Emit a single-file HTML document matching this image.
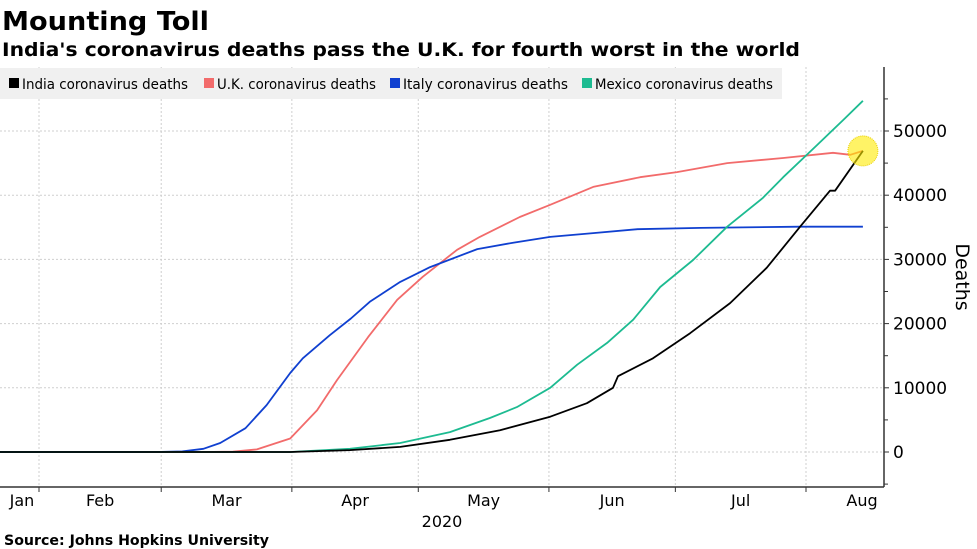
<!DOCTYPE html>
<html><head><meta charset="utf-8"><style>
body{margin:0;background:#fff;}
svg{display:block;font-family:"DejaVu Sans","Liberation Sans",sans-serif;}
</style></head><body>
<svg id="chart" width="977" height="549" viewBox="0 0 977 549" xmlns="http://www.w3.org/2000/svg">
<text x="2" y="30" font-size="26" font-weight="bold" textLength="207" lengthAdjust="spacingAndGlyphs">Mounting Toll</text>
<text x="2" y="56" font-size="19" font-weight="bold" textLength="798" lengthAdjust="spacingAndGlyphs">India's coronavirus deaths pass the U.K. for fourth worst in the world</text>
<g id="grid"></g>
<g id="series"></g>
<g>
<rect x="0" y="68" width="782" height="31" fill="#f0f0f0"/>
<rect x="9" y="78" width="10" height="10" fill="#000"/>
<text x="22" y="89" font-size="14" textLength="166" lengthAdjust="spacingAndGlyphs">India coronavirus deaths</text>
<rect x="204" y="78" width="10" height="10" fill="#f26b6b"/>
<text x="217" y="89" font-size="14" textLength="159" lengthAdjust="spacingAndGlyphs">U.K. coronavirus deaths</text>
<rect x="390" y="78" width="10" height="10" fill="#1040d0"/>
<text x="403" y="89" font-size="14" textLength="165" lengthAdjust="spacingAndGlyphs">Italy coronavirus deaths</text>
<rect x="582" y="78" width="10" height="10" fill="#1dbb91"/>
<text x="595" y="89" font-size="14" textLength="178" lengthAdjust="spacingAndGlyphs">Mexico coronavirus deaths</text>
</g>
<g id="axes"></g>
<text transform="translate(956,277) rotate(90)" text-anchor="middle" font-size="19">Deaths</text>
<text x="442" y="527" text-anchor="middle" font-size="16">2020</text>
<text x="4" y="545" font-size="14" font-weight="bold" textLength="265" lengthAdjust="spacingAndGlyphs">Source: Johns Hopkins University</text>
</svg>
<script>
// day-of-year (0 = Jan 1, 2020) and deaths in thousands
const italyDays = [21,55,60,65,70,74,80,85,90.6,93.6,100,105,109.5,116.7,123.8,135,143.5,152.3,162.5,173,188,211.6,226.5];
const italy     = [0,0,0.01,0.1,0.5,1.4,3.7,7.3,12.3,14.6,18.2,20.8,23.4,26.5,28.8,31.6,32.6,33.5,34.1,34.7,34.9,35.1,35.1];
const ukDays    = [21,70,77,82.7,90.6,97,101.7,109.1,116,122.1,130.2,135.6,145.1,152.3,162.5,173.6,182.4,194.3,207.6,219.4,223.5,226.5];
const uk        = [0,0,0.05,0.4,2.1,6.5,11.2,17.9,23.7,27.3,31.5,33.5,36.6,38.5,41.3,42.8,43.6,45,45.8,46.6,46.3,46.9];
const mexicoDays= [21,90.6,104.8,116.7,128.5,138,144.4,152.3,158.7,165.8,172,178.4,186.2,194.3,202.8,207.6,215.6,221.8,226.5];
const mexico    = [0,0,0.5,1.4,3.1,5.3,7.0,10,13.6,17,20.6,25.7,29.9,35.1,39.6,42.8,47.8,51.7,54.7];
const indiaDays = [21,90.6,104.8,116.7,128.5,140.4,152.3,161,167.2,168.4,176.7,185.5,195,203.7,211.6,218.7,219.9,226.5];
const india     = [0,0,0.3,0.8,1.9,3.4,5.5,7.6,10,11.8,14.6,18.5,23.2,28.7,35.1,40.7,40.7,46.9];
const yTicks = [0,10000,20000,30000,40000,50000];
const monthLabels = ["Jan","Feb","Mar","Apr","May","Jun","Jul","Aug"];
const monthStarts = [0,31,60,91,121,152,182,213];

const NS="http://www.w3.org/2000/svg";
const X0=39, PX=(806-39)/182;
function xs(d){return X0+(d-31)*PX;}
function ys(v){return 452-v*6.42/1000;}
function mk(tag,attrs,parent){const e=document.createElementNS(NS,tag);for(const k in attrs)e.setAttribute(k,attrs[k]);parent.appendChild(e);return e;}
const grid=document.getElementById("grid"),axes=document.getElementById("axes"),ser=document.getElementById("series");
const plotTop=67,plotBot=487,plotRight=884;
yTicks.forEach((t)=>{
  const y=ys(t);
  const g=mk("line",{x1:0,x2:plotRight,y1:y,y2:y,stroke:"#cfcfcf","stroke-dasharray":"2,2"},grid);
  
  
  mk("line",{x1:plotRight,x2:plotRight+5,y1:y,y2:y,stroke:"#333"},axes);
  const tx=mk("text",{x:plotRight+9,y:y+6,"font-size":"17"},axes);
  
  
  tx.textContent=String(t);
});
for(let v=-5000;v<=55000;v+=10000){const y=ys(v);mk("line",{x1:plotRight,x2:plotRight+4,y1:y,y2:y,stroke:"#333"},axes);}
monthStarts.forEach((m,i)=>{
  const x=xs(m);
  if(i>0){
    const g=mk("line",{x1:x,x2:x,y1:plotTop,y2:plotBot,stroke:"#cfcfcf","stroke-dasharray":"2,2"},grid);
    
    
    mk("line",{x1:x,x2:x,y1:plotBot,y2:plotBot+5,stroke:"#333"},axes);
  }
  const nx=i<monthStarts.length-1?xs(monthStarts[i+1]):x+100;
  let cx=(x+nx)/2; if(i===0)cx=22; if(i===7)cx=862;
  const tx=mk("text",{x:cx,y:506,"font-size":"16","text-anchor":"middle"},axes);
  
  
  tx.textContent=monthLabels[i];
});
mk("line",{x1:0,x2:plotRight,y1:plotBot,y2:plotBot,stroke:"#333","stroke-width":1.5},axes);
mk("line",{x1:plotRight,x2:plotRight,y1:plotTop,y2:plotBot,stroke:"#333","stroke-width":1.5},axes);
function draw(ds,vals,color,name){
  const pts=ds.map((d,i)=>xs(d).toFixed(1)+","+ys(vals[i]*1000).toFixed(1)).join(" ");
  const p=mk("polyline",{points:pts,fill:"none",stroke:color,"stroke-width":1.8,"stroke-linejoin":"round"},ser);
  
  
}
draw(ukDays,uk,"#f26b6b","uk-line");
draw(italyDays,italy,"#1040d0","italy-line");
draw(mexicoDays,mexico,"#1dbb91","mexico-line");
draw(indiaDays,india,"#000","india-line");
const last=indiaDays.length-1;
const c=mk("circle",{cx:xs(indiaDays[last]),cy:ys(india[last]*1000),r:15,fill:"rgba(255,235,0,0.6)",stroke:"#e8d000","stroke-dasharray":"1,1"},ser);


</script>
</body></html>
